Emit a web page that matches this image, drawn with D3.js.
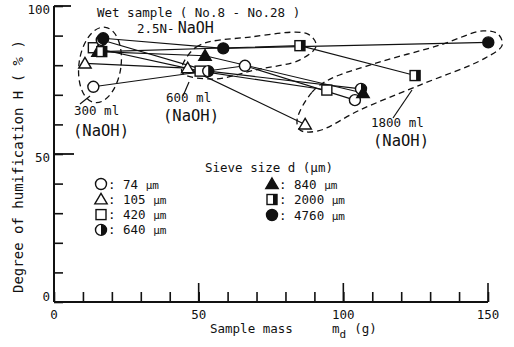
<!DOCTYPE html>
<html>
<head>
<meta charset="utf-8">
<script src="https://cdn.jsdelivr.net/npm/d3@7.9.0/dist/d3.min.js"></script>
<style>
  body { margin: 0; background: #fff; }
  svg { display: block; font-family: "DejaVu Sans Mono", monospace; }
</style>
</head>
<body>
<svg id="chart" width="514" height="347"></svg>
<script>
// NaOH volumes (one point per volume on every line)
const volumes = ['300 ml', '600 ml', '1800 ml'];
// sieve sizes d (um) and their marker
const sieveSizes = [74, 105, 420, 640, 840, 2000, 4760];
const markers = ['circle', 'triangle', 'square', 'halfCircle', 'filledTriangle', 'halfSquare', 'filledCircle'];
// sample mass md (g) for 300 / 600 / 1800 ml
const massValues = [
  [13.6, 66.0, 104.0],
  [10.7, 46.2, 86.8],
  [13.6, 50.5, 94.3],
  [16.5, 53.3, 106.1],
  [15.2, 52.2, 106.8],
  [16.5, 85.0, 124.8],
  [17.0, 58.5, 150.1]
];
// degree of humification H (%)
const humValues = [
  [72.7, 79.8, 68.2],
  [80.6, 79.0, 60.0],
  [85.9, 78.0, 71.6],
  [88.5, 78.0, 72.0],
  [84.6, 83.2, 70.6],
  [84.6, 86.6, 76.5],
  [89.1, 85.7, 87.7]
];
const xTicks = [0, 50, 100, 150];
const yTicks = [0, 50, 100];

// dashed outlines round each volume group (data units)
const group300 = { cx: 15.9, cy: 80.1 };
const group600 = [[44.2, 77.7], [49.1, 86.1], [67.7, 89.5], [87.8, 90.5], [90.6, 86.5], [85.0, 81.8], [69.5, 78.4], [55.0, 75.3]];
const group1800 = [[84.0, 61.5], [89.2, 70.9], [95.4, 75.3], [112.7, 81.1], [133.4, 86.8], [148.3, 91.6], [153.5, 90.5],
  [154.9, 86.8], [149.0, 82.4], [126.5, 73.3], [105.8, 64.9], [91.3, 57.8], [85.0, 58.1]];

const svg = d3.select('#chart');
const x = d3.scaleLinear().domain([0, 150]).range([54, 488]);
const y = d3.scaleLinear().domain([0, 100]).range([302, 6]);

// axes
const xAxis = d3.axisBottom(x).tickValues(d3.range(0, 151, 10)).tickSize(-10).tickFormat('');
const yAxis = d3.axisLeft(y).tickValues(d3.range(0, 101, 10)).tickSize(-9).tickFormat('');
svg.append('g').attr('transform', `translate(0,${y(0)})`).call(xAxis)
  .call(g => g.select('.domain').attr('d', `M${x(0)},0H${x(150)}`).attr('stroke-width', 2));
svg.append('g').attr('transform', `translate(${x(0)},0)`).call(yAxis)
  .call(g => g.select('.domain').attr('d', `M0,${y(100)}V${y(0)}`).attr('stroke-width', 2));
svg.selectAll('.tick line').attr('stroke', '#111').attr('stroke-width', 1.6);
svg.selectAll('.domain').attr('stroke', '#111');

// longer major ticks
svg.append('g').selectAll('line').data(xTicks.slice(1)).join('line')
  .attr('x1', d => x(d)).attr('x2', d => x(d)).attr('y1', y(0)).attr('y2', y(0) - 19)
  .attr('stroke', '#111').attr('stroke-width', 1.6);
svg.append('g').selectAll('line').data(yTicks.slice(1)).join('line')
  .attr('x1', x(0)).attr('x2', d => x(0) + (d === 100 ? 17 : 20)).attr('y1', d => y(d)).attr('y2', d => y(d))
  .attr('stroke', '#111').attr('stroke-width', 1.8);

// tick labels
svg.append('g').selectAll('text').data(xTicks).join('text')
  .attr('x', d => x(d)).attr('y', 319).attr('text-anchor', 'middle')
  .attr('font-size', 12.5).attr('fill', '#111').text(d => d);
svg.append('g').selectAll('text').data(yTicks).join('text')
  .attr('x', 50).attr('y', d => d === 0 ? y(d) - 1 : y(d) + 8).attr('text-anchor', 'end')
  .attr('font-size', 12.5).attr('fill', '#111').text(d => d);

// axis titles
svg.append('text').attr('transform', 'translate(23,293) rotate(-90)')
  .attr('font-size', 14).attr('fill', '#111')
  .text('Degree of humification   H ( % )');
svg.append('text').attr('x', 210).attr('y', 333).attr('font-size', 12.5).attr('fill', '#111').text('Sample mass');
const md = svg.append('text').attr('x', 332).attr('y', 333).attr('font-size', 12.5).attr('fill', '#111');
md.append('tspan').text('m');
md.append('tspan').attr('dy', 5).attr('font-size', 11).text('d');
md.append('tspan').attr('dy', -5).attr('dx', 8).text('(g)');

// titles
svg.append('text').attr('x', 97).attr('y', 17).attr('font-size', 12.5).attr('fill', '#111')
  .text('Wet sample ( No.8 - No.28 )');
const naoh = svg.append('text').attr('x', 137).attr('y', 33).attr('font-size', 12.5).attr('fill', '#111');
naoh.append('tspan').text('2.5N-');
naoh.append('tspan').attr('dx', 3).attr('font-size', 15).text('NaOH');

// dashed group outlines
const dash = '6,4';
svg.append('ellipse')
  .attr('cx', x(group300.cx)).attr('cy', y(group300.cy)).attr('rx', 21).attr('ry', 38)
  .attr('transform', `rotate(8,${x(group300.cx)},${y(group300.cy)})`)
  .attr('fill', 'none').attr('stroke', '#111').attr('stroke-width', 1.3).attr('stroke-dasharray', dash);
const outline = d3.line().x(d => x(d[0])).y(d => y(d[1])).curve(d3.curveCatmullRomClosed.alpha(0.5));
[group600, group1800].forEach(g => {
  svg.append('path').attr('d', outline(g))
    .attr('fill', 'none').attr('stroke', '#111').attr('stroke-width', 1.3).attr('stroke-dasharray', dash);
});

// leader lines and volume labels
const leaders = [[80, 104, 90, 96], [183, 96, 189, 82], [393, 118, 412, 90]];
svg.append('g').selectAll('line').data(leaders).join('line')
  .attr('x1', d => d[0]).attr('y1', d => d[1]).attr('x2', d => d[2]).attr('y2', d => d[3])
  .attr('stroke', '#111').attr('stroke-width', 1.2);
const labelPos = [[74, 115, 73, 136], [166, 102, 163, 121], [371, 127, 373, 146]];
volumes.forEach((v, i) => {
  const p = labelPos[i];
  svg.append('text').attr('x', p[0]).attr('y', p[1]).attr('font-size', 12.5).attr('fill', '#111').text(v);
  svg.append('text').attr('x', p[2]).attr('y', p[3]).attr('font-size', 15.5).attr('fill', '#111').text('(NaOH)');
});

// series lines
const line = d3.line().x(d => x(d[0])).y(d => y(d[1]));
sieveSizes.forEach((s, i) => {
  const pts = massValues[i].map((m, j) => [m, humValues[i][j]]);
  svg.append('path').attr('d', line(pts)).attr('fill', 'none').attr('stroke', '#111').attr('stroke-width', 1.1);
});

// markers
function drawMarker(g, type, cx, cy) {
  const s = g.append('g').attr('transform', `translate(${cx},${cy})`);
  const stroke = '#111', sw = 1.4;
  if (type === 'circle' || type === 'filledCircle' || type === 'halfCircle') {
    s.append('circle').attr('r', 5.5).attr('fill', type === 'filledCircle' ? '#111' : '#fff')
      .attr('stroke', stroke).attr('stroke-width', sw);
    if (type === 'halfCircle') s.append('path').attr('d', 'M0,-5.5A5.5,5.5 0 0 1 0,5.5Z').attr('fill', stroke);
  } else if (type === 'triangle' || type === 'filledTriangle') {
    s.append('path').attr('d', 'M0,-6L6.2,4.6L-6.2,4.6Z')
      .attr('fill', type === 'filledTriangle' ? '#111' : '#fff').attr('stroke', stroke).attr('stroke-width', sw);
  } else {
    s.append('rect').attr('x', -5).attr('y', -5).attr('width', 10).attr('height', 10)
      .attr('fill', '#fff').attr('stroke', stroke).attr('stroke-width', sw);
    if (type === 'halfSquare') s.append('rect').attr('x', 1).attr('y', -5).attr('width', 4).attr('height', 10).attr('fill', stroke);
  }
}
const markG = svg.append('g');
sieveSizes.forEach((s, i) => {
  massValues[i].forEach((m, j) => drawMarker(markG, markers[i], x(m), y(humValues[i][j])));
});

// legend
svg.append('text').attr('x', 205).attr('y', 172).attr('font-size', 12.5).attr('fill', '#111').text('Sieve size d (\u03bcm)');
const legendPos = sieveSizes.map((s, i) => i < 4 ? [101, 184 + i * 15.3] : [272, 184 + (i - 4) * 15.5]);
sieveSizes.forEach((s, i) => {
  const [lx, ly] = legendPos[i];
  drawMarker(svg, markers[i], lx, ly);
  const t = svg.append('text').attr('x', lx + 7).attr('y', ly + 4.5).attr('font-size', 12.5).attr('fill', '#111');
  t.append('tspan').text(': ' + s + ' ');
  t.append('tspan').attr('font-size', 11).text('\u03bcm');
});
</script>
</body>
</html>
